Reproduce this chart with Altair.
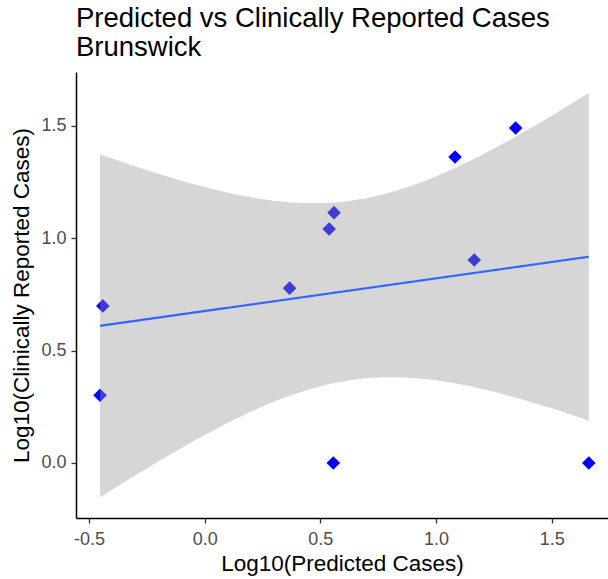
import altair as alt
import numpy as np
import pandas as pd

# Data (log10 scale)
pred_log = [-0.452, -0.440, 0.367, 0.538, 0.559, 1.082, 1.344, 1.165, 0.556, 1.660]
rep_log = [0.301, 0.699, 0.778, 1.041, 1.114, 1.362, 1.491, 0.903, 0.0, 0.0]

x_ticks = [-0.5, 0.0, 0.5, 1.0, 1.5]
y_ticks = [0.0, 0.5, 1.0, 1.5]

title_lines = ["Predicted vs Clinically Reported Cases", "Brunswick"]
x_title = "Log10(Predicted Cases)"
y_title = "Log10(Clinically Reported Cases)"

# Linear fit with 95% confidence band (as geom_smooth(method="lm"))
xa = np.array(pred_log)
ya = np.array(rep_log)
n = len(xa)
mx, my = xa.mean(), ya.mean()
sxx = ((xa - mx) ** 2).sum()
slope = ((xa - mx) * (ya - my)).sum() / sxx
intercept = my - slope * mx
resid = ya - (intercept + slope * xa)
s = np.sqrt((resid ** 2).sum() / (n - 2))
t_crit = 2.306004  # qt(0.975, df=8)
grid = np.linspace(xa.min(), xa.max(), 80)
fit = intercept + slope * grid
se = s * np.sqrt(1.0 / n + (grid - mx) ** 2 / sxx)

pts = pd.DataFrame({"x": pred_log, "y": rep_log})
band = pd.DataFrame({"x": grid, "fit": fit, "lo": fit - t_crit * se, "hi": fit + t_crit * se})

FONT = "Liberation Sans"
xscale = alt.Scale(domain=[-0.556, 1.743], nice=False, zero=False)
yscale = alt.Scale(domain=[-0.245, 1.740], nice=False, zero=False)

hyphen = "replace(format(datum.value, '.1f'), '\u2212', '-')"
xaxis = alt.Axis(values=x_ticks, labelExpr=hyphen, title=x_title, grid=False)
yaxis = alt.Axis(values=y_ticks, labelExpr=hyphen, title=y_title, grid=False)

points = alt.Chart(pts).mark_point(
    shape="diamond", filled=True, size=185, color="#0000FF", opacity=1, clip=True
).encode(
    x=alt.X("x:Q", scale=xscale, axis=xaxis),
    y=alt.Y("y:Q", scale=yscale, axis=yaxis),
)

ribbon = alt.Chart(band).mark_area(color="#999999", opacity=0.4, clip=True).encode(
    x=alt.X("x:Q", scale=xscale),
    y=alt.Y("lo:Q", scale=yscale),
    y2="hi:Q",
)

line = alt.Chart(band).mark_line(color="#3366FF", strokeWidth=2.2, clip=True).encode(
    x=alt.X("x:Q", scale=xscale),
    y=alt.Y("fit:Q", scale=yscale),
)

chart = (
    alt.layer(points, ribbon, line)
    .properties(
        width=532,
        height=446,
        title=alt.TitleParams(
            text=title_lines,
            anchor="start",
            frame="group",
            font=FONT,
            fontSize=27.5,
            fontWeight="normal",
            color="#000000",
            lineHeight=29,
            offset=11,
        ),
        autosize=alt.AutoSizeParams(type="none"),
        padding={"left": 76, "top": 72, "right": 0, "bottom": 61},
    )
    .configure_view(strokeWidth=0)
    .configure_axis(
        domainColor="#000000",
        domainWidth=1.5,
        tickColor="#333333",
        tickWidth=1.3,
        tickSize=5,
        labelFont=FONT,
        labelFontSize=18,
        labelColor="#4D4D4D",
        titleFont=FONT,
        titleFontSize=22.5,
        titleFontWeight="normal",
        titleColor="#000000",
    )
    .configure_axisX(labelPadding=7, titlePadding=4)
    .configure_axisY(labelPadding=5, titlePadding=7)
)

chart.save("out.html", embed_options={"renderer": "svg", "actions": False})
